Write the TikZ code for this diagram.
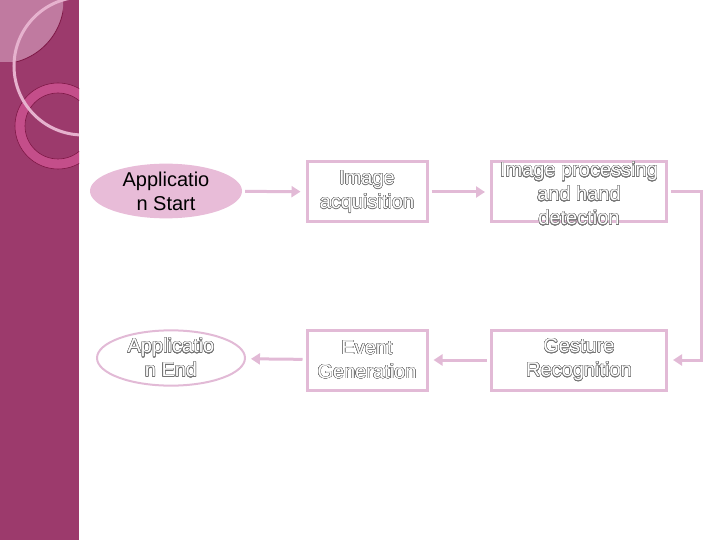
\documentclass[tikz,border=0pt]{standalone}
\usepackage{fontspec}
\setmainfont{Liberation Sans}
\usepackage{contour}
\usepackage{tikz}
\usetikzlibrary{shapes.geometric,arrows.meta}

\definecolor{sidebar}{HTML}{9C3A6C}
\definecolor{lightpatch}{HTML}{C07AA0}
\definecolor{lightring}{HTML}{E6B2CE}
\definecolor{ringfill}{HTML}{C44E8A}
\definecolor{darkline}{HTML}{7E1846}
\definecolor{pinkline}{HTML}{E2BAD6}
\definecolor{startfill}{HTML}{E8BCD8}

\contourlength{0.4pt}
\contournumber{24}
\newcommand{\outl}[1]{\contour{black!55}{\textcolor{white}{#1}}}

\begin{document}
\begin{tikzpicture}[x=1pt, y=-1pt, font=\fontsize{20}{24}\selectfont, text centered, stepbox/.style={draw=pinkline, line width=3pt, fill=white, minimum height=60pt, inner sep=0pt, align=center}, endbox/.style={ellipse, inner sep=0pt, align=center}, flow/.style={draw=pinkline, line width=3pt, -{Triangle[length=9pt,width=11pt]}, shorten >=5pt, shorten <=3pt}]

\useasboundingbox (0,0) rectangle (720,540);

% left band
\fill[sidebar] (0,0) rectangle (79,540);
\begin{scope}
\clip (0,0) rectangle (79,540);
\begin{scope}
\clip (0,0) rectangle (63,62);
\fill[lightpatch, draw=darkline, line width=0.8pt] (0,0) circle (64pt);
\end{scope}
\fill[ringfill, even odd rule] (58,126) circle (43pt) (58,126) circle (33pt);
\draw[darkline, line width=0.6pt] (58,126) circle (43pt) (58,126) circle (33pt);
\draw[lightring, line width=3pt] (83,66) circle (69pt);
\end{scope}

% steps
\node[endbox, fill=startfill, minimum width=152pt, minimum height=52pt] (appstart) at (166,191) {Applicatio\\n Start};
\node[stepbox, minimum width=120pt] (acquire) at (367,192) {\outl{Image}\\\outl{acquisition}};
\node[stepbox, minimum width=175pt] (handdet) at (579,192) {};
\node[align=center, inner sep=0pt] (handtext) at (579,194) {\outl{Image processing}\\\outl{and hand}\\\outl{detection}};
\node[stepbox, minimum width=175pt] (gesture) at (579,360) {\outl{Gesture}\\\outl{Recognition}};
\node[stepbox, minimum width=120pt] (event) at (367,360) {\outl{Event}\\\outl{Generation}};
\node[endbox, draw=pinkline, line width=2pt, fill=white, minimum width=148pt, minimum height=53pt] (append) at (171,358) {\outl{Applicatio}\\\outl{n End}};

% connectors
\draw[flow] (appstart) -- (acquire);
\draw[flow] (acquire) -- (handdet);
\draw[flow] (handdet.east) -- ++(33,0) |- (gesture.east);
\draw[flow] (gesture) -- (event);
\draw[flow] (event) -- (append);

\end{tikzpicture}
\end{document}
